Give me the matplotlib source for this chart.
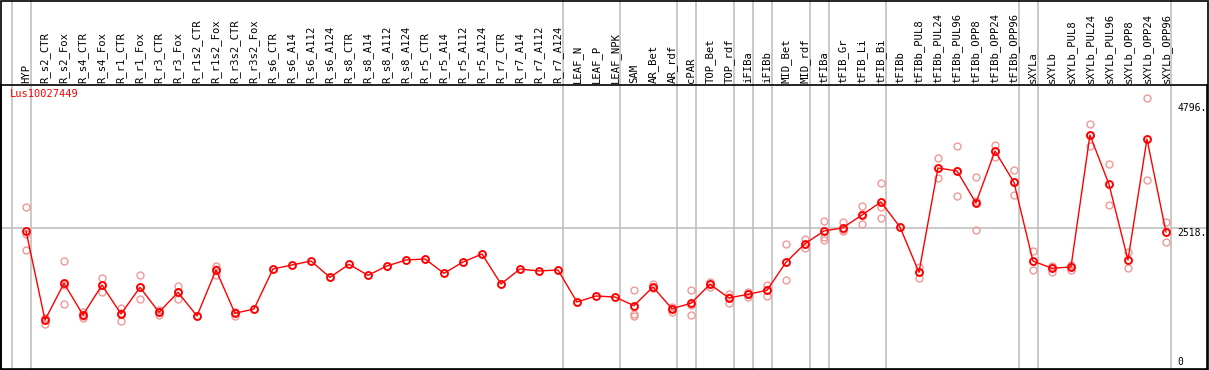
import matplotlib
matplotlib.use("Agg")
import matplotlib.pyplot as plt
from matplotlib.patches import Rectangle

gene = "Lus10027449"

samples = [
    "HYP", "R_s2_CTR", "R_s2_Fox", "R_s4_CTR", "R_s4_Fox", "R_r1_CTR", "R_r1_Fox",
    "R_r3_CTR", "R_r3_Fox", "R_r1s2_CTR", "R_r1s2_Fox", "R_r3s2_CTR", "R_r3s2_Fox",
    "R_s6_CTR", "R_s6_A14", "R_s6_A112", "R_s6_A124", "R_s8_CTR", "R_s8_A14",
    "R_s8_A112", "R_s8_A124", "R_r5_CTR", "R_r5_A14", "R_r5_A112", "R_r5_A124",
    "R_r7_CTR", "R_r7_A14", "R_r7_A112", "R_r7_A124", "LEAF_N", "LEAF_P", "LEAF_NPK",
    "SAM", "AR_Bet", "AR_rdf", "cPAR", "TOP_Bet", "TOP_rdf", "iFIBa", "iFIBb",
    "MID_Bet", "MID_rdf", "tFIBa", "tFIB_Gr", "tFIB_Li", "tFIB_Bi", "tFIBb",
    "tFIBb_PUL8", "tFIBb_PUL24", "tFIBb_PUL96", "tFIBb_OPP8", "tFIBb_OPP24",
    "tFIBb_OPP96", "sXYLa", "sXYLb", "sXYLb_PUL8", "sXYLb_PUL24", "sXYLb_PUL96",
    "sXYLb_OPP8", "sXYLb_OPP24", "sXYLb_OPP96",
]

# mean expression per sample
means = [
    2469, 851, 1518, 942, 1487, 960, 1445, 991, 1354, 924, 1760, 973, 1051,
    1778, 1851, 1923, 1627, 1863, 1663, 1833, 1942, 1960, 1700, 1905, 2051,
    1505, 1778, 1742, 1760, 1178, 1287, 1269,
    1111, 1451, 1057, 1154, 1500, 1251, 1318, 1391,
    1900, 2238, 2469, 2529, 2760, 2996, 2541,
    1718, 3614, 3560, 2978, 3923, 3354,
    1923, 1791, 1814, 4214, 3318, 1942, 4141, 2451,
]

# individual replicates (empty where only the mean is visible)
replicates = [
    [2900, 2409, 2118], [882, 893, 778], [1923, 1142, 1489], [1002, 893, 931],
    [1614, 1365, 1482], [1063, 838, 979], [1663, 1227, 1445], [942, 1002, 1029],
    [1469, 1238, 1355], [], [1833, 1669, 1778], [929, 1002, 988], [],
    [], [], [], [], [], [], [], [], [], [], [], [], [], [], [], [],
    [], [], [],
    [1396, 954, 929], [1500, 1427, 1426], [1093, 1002, 1076], [1396, 942, 1124],
    [1547, 1456, 1497], [1323, 1154, 1276], [1365, 1263, 1326], [1493, 1282, 1398],
    [2227, 1573], [2323, 2154], [2651, 2365, 2305], [2638, 2482, 2467],
    [2918, 2591, 2771], [3341, 2911, 2700], [],
    [1820, 1609], [3796, 3427], [4014, 3100, 3566], [3445, 2482, 3007],
    [4032, 3820, 3917], [3572, 3123, 3367],
    [2105, 1754], [1833, 1729, 1811], [1851, 1765, 1826], [4409, 4014, 4219],
    [3681, 2942], [2093, 1802], [4881, 3391], [2632, 2263],
]

# last sample index of each tissue group
group_ends = [-1, 0, 28, 31, 34, 35, 37, 38, 39, 41, 42, 45, 52, 53, 60]

y_ticks = [0, 2518, 4796]
y_tick_labels = ["0", "2518.", "4796."]

W, H = 1209, 370
fig = plt.figure(figsize=(W / 100, H / 100), dpi=100)
ax = fig.add_axes([1 / W, 1.5 / H, 1206 / W, 283.5 / H])

x = list(range(len(samples)))
ax.set_xlim(-1.316, 62.16)
ax.set_ylim(-31, 5123)

mono = "DejaVu Sans Mono"
red = "#ff0000"
pink = "#f09898"

# group separators, running through the header as well
for e in group_ends:
    ax.axvline(e + 0.24, ymin=-0.01, ymax=1.31, color="#c0c0c0", lw=1.2,
               clip_on=False, zorder=1)
ax.axhline(2518, color="#c0c0c0", lw=1.2, zorder=1)

for i, reps in enumerate(replicates):
    if reps:
        ax.plot([i] * len(reps), reps, "o", ms=5, mfc="none", mec=pink,
                mew=1.0, zorder=2)

ax.plot(x, means, "-", color=red, lw=1.0, zorder=3)
ax.plot(x, means, "o", ms=5, mfc="none", mec=red, mew=1.4, zorder=4)

ax.set_xticks(x)
ax.set_xticklabels(samples, rotation=90, fontfamily=mono, fontsize=7.6)
ax.tick_params(axis="x", top=True, labeltop=True, bottom=False,
               labelbottom=False, length=0, pad=1.5)
ax.set_yticks([])

for v, lab in zip(y_ticks, y_tick_labels):
    ax.text(0.9755, v, lab, transform=ax.get_yaxis_transform(),
            fontfamily=mono, fontsize=7, ha="left",
            va="bottom" if v == 0 else "top")

ax.text(0.007, 0.985, gene, transform=ax.transAxes, color=red,
        fontfamily=mono, fontsize=7.5, ha="left", va="top")

for s in ax.spines.values():
    s.set_color("black")
    s.set_linewidth(1.2)

# outer frame of the whole picture
fig.patches.append(Rectangle((0.5 / W, 0.5 / H), 1 - 1.5 / W, 1 - 1.5 / H,
                             transform=fig.transFigure, fill=False,
                             edgecolor="black", lw=1.2))

fig.savefig("out.png", dpi=100)
